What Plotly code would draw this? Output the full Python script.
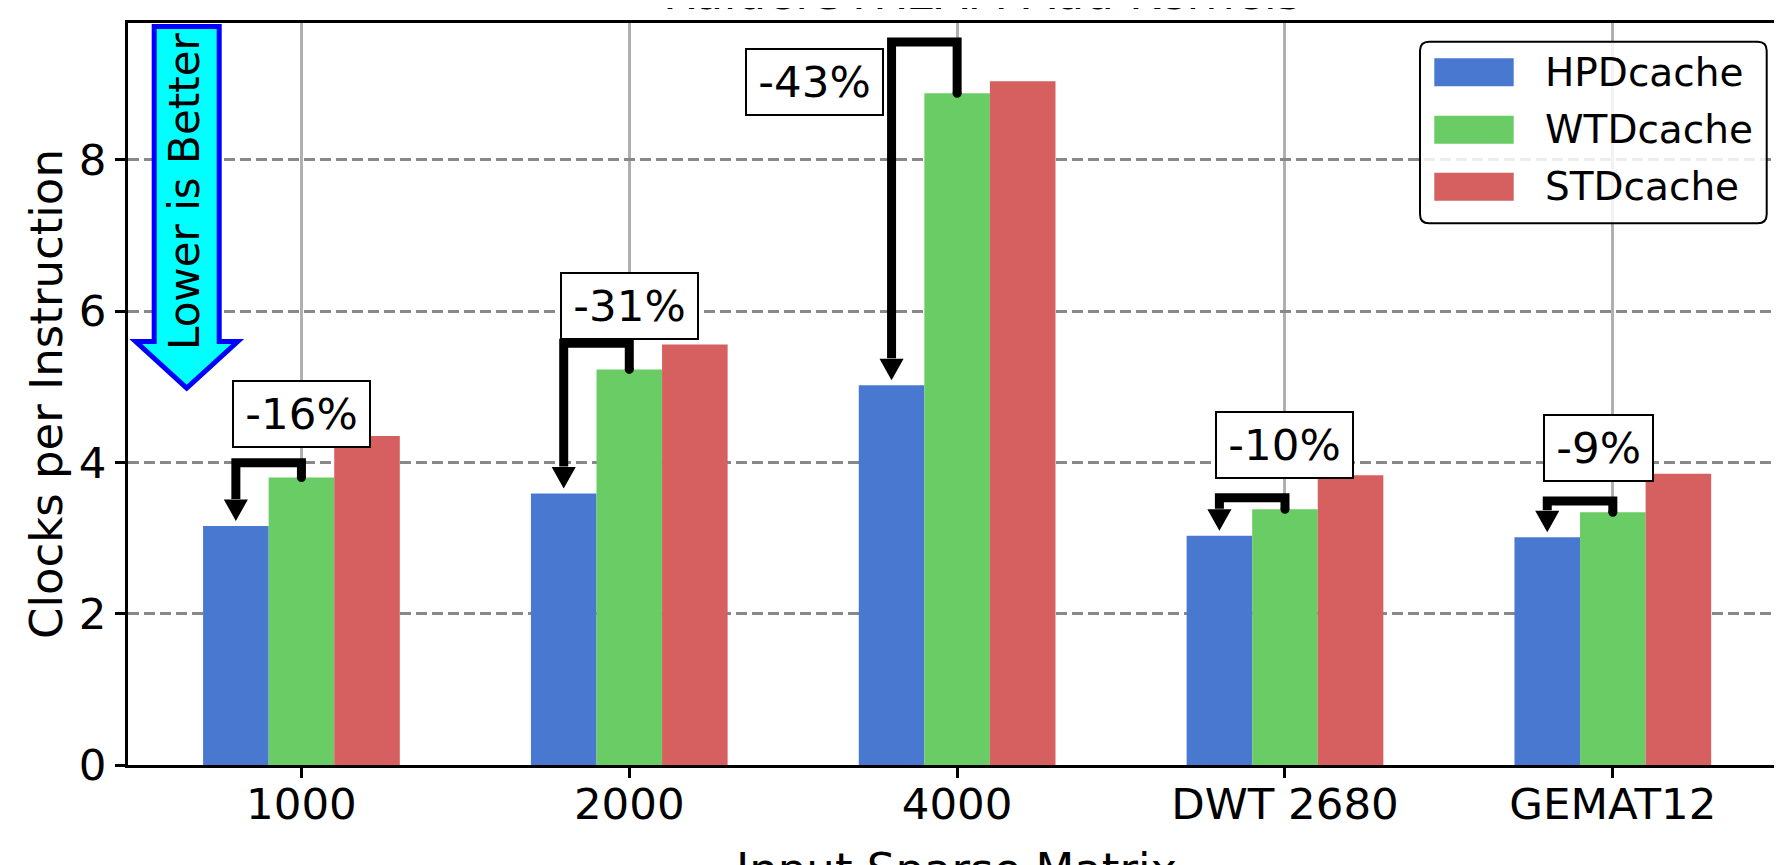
import plotly.graph_objects as go

# ---------------- data ----------------
categories = ["1000", "2000", "4000", "DWT 2680", "GEMAT12"]
hpd_cpi = [3.16, 3.59, 5.02, 3.03, 3.01]
wtd_cpi = [3.80, 5.23, 8.88, 3.38, 3.34]
std_cpi = [4.35, 5.56, 9.04, 3.83, 3.85]
reduction_labels = ["-16%", "-31%", "-43%", "-10%", "-9%"]
series_names = ["HPDcache", "WTDcache", "STDcache"]
y_ticks = [0, 2, 4, 6, 8]

# ---------------- layout constants ----------------
OFF = 8                      # page body margin
W, H = 1782 - OFF, 865 - OFF
ML, MR, MT, MB = 120, 0, 15, 100
PW, PH = W - ML - MR, H - MT - MB
XR = [-0.529, 4.516]
YR = [0, 9.81]
UX = (XR[1] - XR[0]) / PW   # data units per pixel (x)
UY = (YR[1] - YR[0]) / PH   # data units per pixel (y)
FONT = "DejaVu Sans"
colors = ["#4878CF", "#6ACC65", "#D65F5F"]

label_side = ["left", "left", "right", "left", "left"]
label_dy = [0.845, 0.845, 0.145, 0.845, 0.845]

X0 = ML + OFF
Y0 = MT + OFF + PH


def dx(px):
    return XR[0] + (px - X0) * UX


def dy(py):
    return YR[0] + (Y0 - py) * UY


def pxp(px):
    return (px - X0) / PW


def pyp(py):
    return (Y0 - py) / PH


xs = list(range(len(categories)))
fig = go.Figure()
for name, vals, col in zip(series_names, [hpd_cpi, wtd_cpi, std_cpi], colors):
    fig.add_trace(go.Bar(x=xs, y=vals, name=name, marker=dict(color=col, line=dict(width=0)),
                         showlegend=False))

shapes = []
annotations = []

# ---------------- reduction brackets ----------------
HS = "&#8202;"
for i, (b, g) in enumerate(zip(hpd_cpi, wtd_cpi)):
    gx = i
    bx = i - 0.2
    top = g + 0.1 + 0.15 * (g - b)
    tip = b + 0.08 + 2 * UY
    base = tip + 17 * UY
    shapes.append(dict(type="path", xref="x", yref="y", layer="above",
                       path=f"M {gx},{g} L {gx},{top} L {bx},{top} L {bx},{base + 2*UY}",
                       line=dict(color="black", width=9)))
    shapes.append(dict(type="path", xref="x", yref="y", layer="above",
                       path=f"M {bx - 9.5*UX},{base} L {bx + 9.5*UX},{base} L {bx},{tip} Z",
                       fillcolor="black", line=dict(color="black", width=3)))
    shapes.append(dict(type="circle", xref="x", yref="y", layer="above",
                       x0=gx - 4.5 * UX, x1=gx + 4.5 * UX, y0=g - 4.5 * UY, y1=g + 4.5 * UY,
                       fillcolor="black", line=dict(width=0)))
    side = label_side[i]
    annotations.append(dict(x=bx, y=g + label_dy[i], xref="x", yref="y",
                            text=HS + reduction_labels[i] + HS, showarrow=False,
                            xanchor=side, yanchor="middle",
                            xshift=-4 if side == "left" else -8,
                            font=dict(family=FONT, size=43.5, color="black"),
                            bgcolor="white", bordercolor="black", borderwidth=2, borderpad=7))

# ---------------- "Lower is Better" arrow ----------------
cxp = 186.7
ax_path = (f"M {dx(cxp-32.5)},{dy(26.5)} L {dx(cxp+32.5)},{dy(26.5)} "
           f"L {dx(cxp+32.5)},{dy(341.5)} L {dx(cxp+51)},{dy(341.5)} "
           f"L {dx(cxp)},{dy(388)} L {dx(cxp-51)},{dy(341.5)} "
           f"L {dx(cxp-32.5)},{dy(341.5)} Z")
shapes.append(dict(type="path", xref="x", yref="y", layer="above", path=ax_path,
                   fillcolor="#00FFFF", line=dict(color="#0000FF", width=5)))
annotations.append(dict(x=dx(184), y=dy(192), xref="x", yref="y", text="Lower is Better",
                        showarrow=False, textangle=-90, xanchor="center", yanchor="middle",
                        font=dict(family=FONT, size=42, color="black")))

# ---------------- legend (drawn) ----------------
lx0, lx1, ly0, ly1, r = 1420, 1766.7, 41.7, 223.3, 9
leg_path = (f"M {pxp(lx0+r)},{pyp(ly0)} L {pxp(lx1-r)},{pyp(ly0)} "
            f"Q {pxp(lx1)},{pyp(ly0)} {pxp(lx1)},{pyp(ly0+r)} "
            f"L {pxp(lx1)},{pyp(ly1-r)} Q {pxp(lx1)},{pyp(ly1)} {pxp(lx1-r)},{pyp(ly1)} "
            f"L {pxp(lx0+r)},{pyp(ly1)} Q {pxp(lx0)},{pyp(ly1)} {pxp(lx0)},{pyp(ly1-r)} "
            f"L {pxp(lx0)},{pyp(ly0+r)} Q {pxp(lx0)},{pyp(ly0)} {pxp(lx0+r)},{pyp(ly0)} Z")
shapes.append(dict(type="path", xref="paper", yref="paper", layer="above", path=leg_path,
                   fillcolor="rgba(255,255,255,0.85)", line=dict(color="black", width=2)))
row_y = [72.3, 129.7, 186.7]
for name, col, ry in zip(series_names, colors, row_y):
    shapes.append(dict(type="rect", xref="paper", yref="paper", layer="above",
                       x0=pxp(1434.3), x1=pxp(1513.7), y0=pyp(ry + 14), y1=pyp(ry - 14),
                       fillcolor=col, line=dict(width=0)))
    annotations.append(dict(x=pxp(1543), y=pyp(ry), xref="paper", yref="paper", text=name,
                            showarrow=False, xanchor="left", yanchor="middle",
                            font=dict(family=FONT, size=39, color="black")))

# ---------------- titles ----------------
annotations.append(dict(x=pxp(982), y=1, xref="paper", yref="paper",
                        text="RaiderSTREAM Add Kernels", showarrow=False,
                        xanchor="center", yanchor="bottom", yshift=1,
                        font=dict(family=FONT, size=47, color="black")))
annotations.append(dict(x=pxp(957), y=0, xref="paper", yref="paper",
                        text="Input Sparse Matrix", showarrow=False,
                        xanchor="center", yanchor="top", yshift=-76,
                        font=dict(family=FONT, size=45, color="black")))
annotations.append(dict(x=0, y=pyp(394), xref="paper", yref="paper",
                        text="Clocks per Instruction", showarrow=False, textangle=-90,
                        xanchor="center", yanchor="middle", xshift=-82,
                        font=dict(family=FONT, size=45, color="black")))

fig.update_layout(
    width=W, height=H,
    margin=dict(l=ML, r=MR, t=MT, b=MB, pad=0),
    paper_bgcolor="white", plot_bgcolor="white",
    barmode="group", bargap=0.4, bargroupgap=0,
    font=dict(family=FONT, color="black"),
    shapes=shapes, annotations=annotations,
    showlegend=False,
)
fig.update_xaxes(range=XR, tickmode="array", tickvals=xs, ticktext=categories,
                 tickfont=dict(family=FONT, size=43.5, color="black"),
                 showline=True, linecolor="black", linewidth=2.5, mirror=True,
                 ticks="outside", ticklen=10, tickwidth=2.5, tickcolor="black",
                 ticklabelstandoff=-11,
                 showgrid=True, gridcolor="#b0b0b0", gridwidth=2.5, zeroline=False)
fig.update_yaxes(range=YR, tickmode="array", tickvals=y_ticks,
                 tickfont=dict(family=FONT, size=43.5, color="black"),
                 showline=True, linecolor="black", linewidth=2.5, mirror=False,
                 ticks="outside", ticklen=10, tickwidth=2.5, tickcolor="black",
                 showgrid=True, gridcolor="#888888", gridwidth=2.5, griddash="11px,5px",
                 zeroline=False)

fig.write_html("out.html")
